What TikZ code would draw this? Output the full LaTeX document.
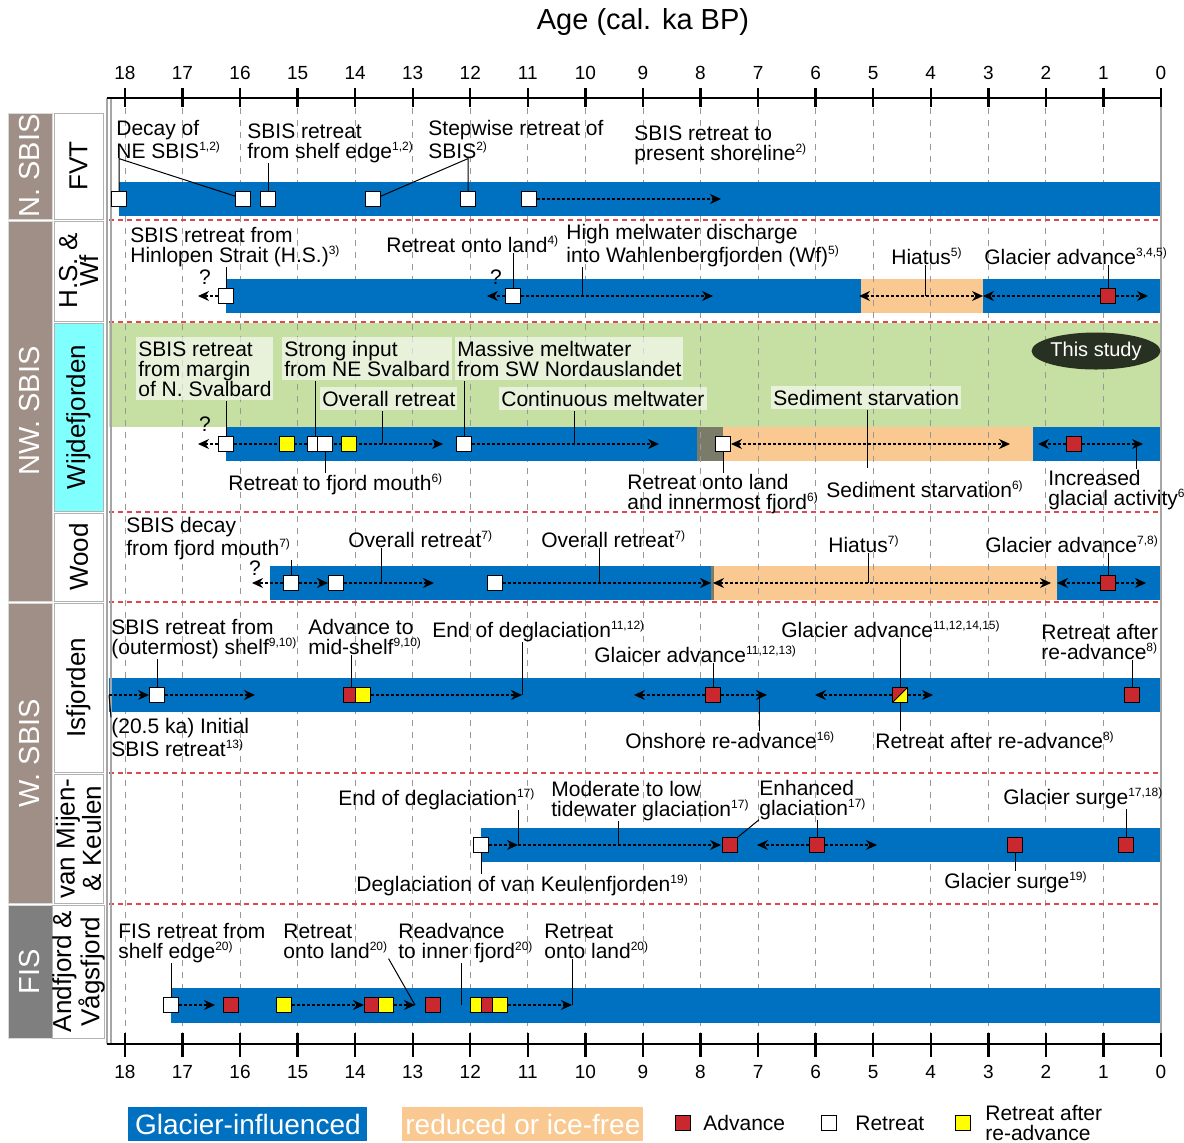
\documentclass[tikz,border=0pt]{standalone}
\usepackage{fontspec}
\setmainfont{Liberation Sans}
\usetikzlibrary{arrows.meta,shapes.geometric}

\definecolor{glacier}{HTML}{0070C0}
\definecolor{icefree}{HTML}{F9C991}
\definecolor{studybg}{HTML}{C6E0A4}
\definecolor{advred}{HTML}{C8282E}
\definecolor{rayellow}{HTML}{FFFF00}
\definecolor{sepred}{HTML}{E0474C}
\definecolor{regbrown}{HTML}{9F8F86}
\definecolor{fisgray}{HTML}{7F7F7F}
\definecolor{hiatgray}{HTML}{7B7B69}
\definecolor{studydark}{HTML}{283021}
\definecolor{wijcyan}{HTML}{80FFFF}

\pgfdeclarelayer{back}
\pgfdeclarelayer{mid}
\pgfsetlayers{back,mid,main}

\newcommand{\supref}[1]{\textsuperscript{\fontsize{6}{6}\selectfont #1)}}

\tikzset{
  sqbox/.style={draw=black, line width=0.5pt, minimum size=7.5pt, inner sep=0pt},
  adv/.style={sqbox, fill=advred},
  ret/.style={sqbox, fill=white},
  rar/.style={sqbox, fill=rayellow},
  split/.style={sqbox, fill=advred, path picture={
      \fill[rayellow] (path picture bounding box.south west) -- (path picture bounding box.south east)
        -- (path picture bounding box.north east) -- cycle;
      \draw[line width=0.5pt] (path picture bounding box.south west) -- (path picture bounding box.north east);}},
  lbl/.style={anchor=base west, inner sep=0pt, align=left, font=\fontsize{10.5}{10}\selectfont},
  wlbl/.style={lbl, fill=white, fill opacity=0.6, text opacity=1, inner xsep=1pt, inner ysep=2pt},
  qmark/.style={inner sep=0pt, font=\fontsize{10.5}{10}\selectfont},
  leader/.style={line width=0.5pt},
  dotarr/.style={line width=0.6pt, dash pattern=on 1.5pt off 1pt, -{Stealth[length=5.5pt,width=5pt]}},
  dotboth/.style={dotarr, {Stealth[length=5.5pt,width=5pt]}-{Stealth[length=5.5pt,width=5pt]}},
  gridline/.style={gray!80, line width=0.4pt, dash pattern=on 3pt off 3pt},
  sepline/.style={sepred, line width=0.6pt, dash pattern=on 2.5pt off 2pt},
  frameline/.style={gray!70, line width=0.8pt},
  axisline/.style={black, line width=1.2pt},
  ticklbl/.style={inner sep=0pt, font=\fontsize{9.5}{10}\selectfont},
  regbox/.style={rotate=90, fill=regbrown, draw=gray!30, minimum height=22pt, inner sep=0pt,
    text=white, font=\fontsize{14.5}{15}\selectfont},
  sitebox/.style={rotate=90, fill=white, draw=gray!60, minimum height=24.5pt, inner sep=0pt,
    align=center, font=\fontsize{13}{9.5}\selectfont},
  legbox/.style={anchor=north west, minimum height=17pt, inner sep=0pt, text=white,
    font=\fontsize{14}{15}\selectfont},
  legtxt/.style={anchor=west, inner sep=0pt, align=left, font=\fontsize{10.5}{10}\selectfont}
}

\begin{document}
\begin{tikzpicture}[x=0.5pt,y=-0.5pt]
\useasboundingbox (0,0) rectangle (1184,1142);

\begin{pgfonlayer}{back}
\fill[studybg] (109,323) rectangle (1161,427);
\fill[icefree] (861,279) rectangle (983,313);
\fill[hiatgray] (697,427) rectangle (723,461);
\fill[icefree] (723,427) rectangle (1033,461);
\fill[hiatgray] (711,566) rectangle (714,600);
\fill[icefree] (714,566) rectangle (1057,600);
\foreach \a in {1,...,18}
  \draw[gridline] ({1161-57.56*\a},108) -- ({1161-57.56*\a},1033);
\fill[glacier] (119,182) rectangle (1161,216);
\fill[glacier] (226,279) rectangle (861,313);
\fill[glacier] (983,279) rectangle (1161,313);
\fill[glacier] (226,427) rectangle (697,461);
\fill[glacier] (1033,427) rectangle (1161,461);
\fill[glacier] (270,566) rectangle (711,600);
\fill[glacier] (1057,566) rectangle (1161,600);
\fill[glacier] (109,678) rectangle (1161,712);
\fill[glacier] (481,828) rectangle (1161,862);
\fill[glacier] (171,988) rectangle (1161,1023);
\foreach \y in {220,322,512,602,773,904}
  \draw[sepline] (109,\y) -- (1161,\y);
\draw[frameline] (107,98) -- (107,1044);
\draw[frameline] (111,98) -- (111,1044);
\draw[frameline] (1161,98) -- (1161,1044);
\end{pgfonlayer}

\node[font=\fontsize{14.5}{16}\selectfont] (title) at (643,22) {Age (cal. ka BP)};
\draw[axisline] (107,98) -- (1161,98);
\draw[axisline] (107,1044) -- (1161,1044);
\foreach \a in {0,...,18} {
  \draw[axisline] ({1161-57.56*\a},88) -- ({1161-57.56*\a},107);
  \draw[axisline] ({1161-57.56*\a},1033) -- ({1161-57.56*\a},1057);
  \node[ticklbl] (tt\a) at ({1161-57.56*\a},73) {\a};
  \node[ticklbl] (tb\a) at ({1161-57.56*\a},1072) {\a};
}

\node[regbox, minimum width=53pt] (rgN) at (30,166) {N. SBIS};
\node[regbox, minimum width=190pt] (rgNW) at (30,411) {NW. SBIS};
\node[regbox, minimum width=150pt] (rgW) at (30,753) {W. SBIS};
\node[regbox, fill=fisgray, minimum width=66.5pt] (rgF) at (30,971.5) {FIS};
\node[sitebox, minimum width=53pt] (sFVT) at (78.5,166) {FVT};
\node[sitebox, minimum width=50pt] (sHS) at (78.5,271) {H.S. \&\\Wf};
\node[sitebox, fill=wijcyan, minimum width=94pt] (sWij) at (78.5,417) {Wijdefjorden};
\node[sitebox, minimum width=44pt] (sWood) at (78.5,557) {Wood};
\node[sitebox, minimum width=84.5pt] (sIsf) at (78.5,687.5) {Isfjorden};
\node[sitebox, minimum width=64.5pt] (sVM) at (78.5,838.5) {van Mijen-\\\& Keulen};
\node[sitebox, minimum width=66.5pt] (sAV) at (78.5,971.5) {Andfjord \&\\Vågsfjord};

\node[ret] (f1) at (119,199) {};
\node[ret] (f2) at (243,199) {};
\node[ret] (f3) at (268,199) {};
\node[ret] (f4) at (373,199) {};
\node[ret] (f5) at (468,199) {};
\node[ret] (f6) at (529,199) {};
\coordinate (f6e) at (721,199);
\node[lbl] (lf1) at (116,158) {Decay of\\NE SBIS\supref{1,2}};
\node[lbl] (lf2) at (247,158) {SBIS retreat\\from shelf edge\supref{1,2}};
\node[lbl] (lf3) at (428,158) {Stepwise retreat of\\SBIS\supref{2}};
\node[lbl] (lf4) at (634,160) {SBIS retreat to\\present shoreline\supref{2}};
\draw[leader] (f1.north) -- (f1 |- lf1.south) -- (f2.160);
\draw[leader] (f3.north) -- (f3 |- lf2.south);
\draw[leader] (f4.20) -- (f5 |- lf3.south) -- (f5.north);

\node[ret] (h1) at (226,296) {};
\node[ret] (h2) at (513,296) {};
\node[adv] (h3) at (1108,296) {};
\coordinate (h1q) at (198,296);
\coordinate (h2q) at (487,296);
\coordinate (h2e) at (713,296);
\coordinate (hw) at (582,296);
\coordinate (hiL) at (859,296);
\coordinate (hiR) at (983,296);
\coordinate (hic) at (925,296);
\coordinate (hgl) at (983,296);
\coordinate (hgr) at (1148,296);
\node[qmark] (q1) at (205,277) {?};
\node[qmark] (q2) at (496,277) {?};
\node[lbl] (lh1) at (130,262) {SBIS retreat from\\Hinlopen Strait (H.S.)\supref{3}};
\node[lbl] (lh2) at (386,252) {Retreat onto land\supref{4}};
\node[lbl] (lh3) at (566,262) {High melwater discharge\\into Wahlenbergfjorden (Wf)\supref{5}};
\node[lbl] (lh4) at (891,264) {Hiatus\supref{5}};
\node[lbl] (lh5) at (984,264) {Glacier advance\supref{3,4,5}};
\draw[leader] (h1.north) -- (h1 |- lh1.south);
\draw[leader] (h2.north) -- (h2 |- lh2.south);
\draw[leader] (hw) -- (hw |- lh3.south);
\draw[leader] (hic) -- (hic |- lh4.south);
\draw[leader] (h3.north) -- (h3 |- lh5.south);

\node[ret] (w1) at (226,444) {};
\node[rar] (w2) at (287,444) {};
\node[ret] (w3) at (315,444) {};
\node[ret] (w4) at (325,444) {};
\node[rar] (w5) at (349,444) {};
\node[ret] (w6) at (464,444) {};
\node[ret] (w7) at (723,444) {};
\node[adv] (w8) at (1074,444) {};
\coordinate (w1q) at (198,444);
\coordinate (w1e) at (443,444);
\coordinate (w3c) at (382,444);
\coordinate (w5c) at (574,444);
\coordinate (w6e) at (659,444);
\coordinate (w7e) at (1010,444);
\coordinate (w7d) at (867,468);
\coordinate (w8l) at (1038,444);
\coordinate (w8r) at (1143,444);
\coordinate (w8a) at (1136,444);
\node[qmark] (q3) at (205,424) {?};
\node[wlbl] (lw1) at (136,396) {SBIS retreat\\from margin\\of N. Svalbard};
\node[wlbl] (lw2) at (282,376) {Strong input\\from NE Svalbard};
\node[wlbl] (lw3) at (320,406) {Overall retreat};
\node[wlbl] (lw4) at (455,376) {Massive meltwater\\from SW Nordauslandet};
\node[wlbl] (lw5) at (499,406) {Continuous meltwater};
\node[wlbl] (lw6) at (771,405) {Sediment starvation};
\node[lbl] (lw7) at (228,490) {Retreat to fjord mouth\supref{6}};
\node[lbl] (lw8) at (627,509) {Retreat onto land\\and innermost fjord\supref{6}};
\node[lbl] (lw9) at (826,497) {Sediment starvation\supref{6}};
\node[lbl] (lw10) at (1048,505) {Increased\\glacial activity\supref{6}};
\node[ellipse, fill=studydark, text=white, minimum width=54pt, minimum height=18.5pt, inner sep=0pt,
  font=\fontsize{10}{10}\selectfont] (study) at (1096,351) {This study};
\draw[leader] (w1.north) -- (w1 |- lw1.south);
\draw[leader] (w3.north) -- (w3 |- lw2.south);
\draw[leader] (w3c) -- (w3c |- lw3.south);
\draw[leader] (w6.north) -- (w6 |- lw4.south);
\draw[leader] (w5c) -- (w5c |- lw5.south);
\draw[leader] (lw6.south -| w7d) -- (w7d);
\draw[leader] (w4.south) -- (w4 |- lw7.north);
\draw[leader] (w7.south) -- (w7 |- lw8.north);
\draw[leader] (w8a) -- (w8a |- lw10.north);

\node[ret] (d1) at (291,583) {};
\node[ret] (d2) at (336,583) {};
\node[ret] (d3) at (495,583) {};
\node[adv] (d4) at (1108,583) {};
\coordinate (d1q) at (252,583);
\coordinate (d2e) at (434,583);
\coordinate (d2c) at (381,583);
\coordinate (d3e) at (711,583);
\coordinate (d3c) at (599,583);
\coordinate (dhL) at (713,583);
\coordinate (dhR) at (1051,583);
\coordinate (dhc) at (868,583);
\coordinate (d4l) at (1057,583);
\coordinate (d4r) at (1146,583);
\node[qmark] (q4) at (255,568) {?};
\node[lbl] (ld1) at (126,555) {SBIS decay\\from fjord mouth\supref{7}};
\node[lbl] (ld2) at (348,547) {Overall retreat\supref{7}};
\node[lbl] (ld3) at (541,547) {Overall retreat\supref{7}};
\node[lbl] (ld4) at (828,552) {Hiatus\supref{7}};
\node[lbl] (ld5) at (985,552) {Glacier advance\supref{7,8}};
\draw[leader] (d1.north) -- (d1 |- ld1.south);
\draw[leader] (d2c) -- (d2c |- ld2.south);
\draw[leader] (d3c) -- (d3c |- ld3.south);
\draw[leader] (dhc) -- (dhc |- ld4.south);
\draw[leader] (d4.north) -- (d4 |- ld5.south);

\node[ret] (i1) at (157,695) {};
\node[adv] (i2) at (351,695) {};
\node[rar] (i3) at (363,695) {};
\node[adv] (i4) at (713,695) {};
\node[split] (i5) at (900,695) {};
\node[adv] (i6) at (1132,695) {};
\coordinate (i0) at (109,695);
\coordinate (i1e) at (255,695);
\coordinate (i3e) at (522,695);
\coordinate (i4l) at (634,695);
\coordinate (i4r) at (767,695);
\coordinate (i4c) at (759,695);
\coordinate (i5l) at (815,695);
\coordinate (i5r) at (933,695);
\node[lbl] (li1) at (111,654) {SBIS retreat from\\(outermost) shelf\supref{9,10}};
\node[lbl] (li2) at (308,654) {Advance to\\mid-shelf\supref{9,10}};
\node[lbl] (li3) at (432,637) {End of deglaciation\supref{11,12}};
\node[lbl] (li4) at (594,662) {Glaicer advance\supref{11,12,13}};
\node[lbl] (li5) at (781,637) {Glacier advance\supref{11,12,14,15}};
\node[lbl] (li6) at (1041,659) {Retreat after\\re-advance\supref{8}};
\node[lbl] (li7) at (111,756) {(20.5 ka) Initial\\SBIS retreat\supref{13}};
\node[lbl] (li8) at (625,748) {Onshore re-advance\supref{16}};
\node[lbl] (li9) at (875,748) {Retreat after re-advance\supref{8}};
\draw[leader] (i1.north) -- (i1 |- li1.south);
\draw[leader] (i2.north) -- (i2 |- li2.south);
\draw[leader] (i3e) -- (i3e |- li3.south);
\draw[leader] (i4.north) -- (i4 |- li4.south);
\draw[leader] (i5.north) -- (i5 |- li5.south);
\draw[leader] (i6.north) -- (i6 |- li6.south);
\draw[leader] (i0) -- (li7.north west);
\draw[leader] (i4c) -- (i4c |- li8.north);
\draw[leader] (i5.south) -- (i5 |- li9.north);

\node[ret] (v1) at (481,845) {};
\node[adv] (v2) at (730,845) {};
\node[adv] (v3) at (817,845) {};
\node[adv] (v4) at (1015,845) {};
\node[adv] (v5) at (1126,845) {};
\coordinate (v1m) at (518,845);
\coordinate (v1e) at (721,845);
\coordinate (v2c) at (618,845);
\coordinate (v3l) at (757,845);
\coordinate (v3r) at (877,845);
\node[lbl] (lv1) at (338,805) {End of deglaciation\supref{17}};
\node[lbl] (lv2) at (551,816) {Moderate to low\\tidewater glaciation\supref{17}};
\node[lbl] (lv3) at (759,815) {Enhanced\\glaciation\supref{17}};
\node[lbl] (lv4) at (1003,804) {Glacier surge\supref{17,18}};
\node[lbl] (lv5) at (356,891) {Deglaciation of van Keulenfjorden\supref{19}};
\node[lbl] (lv6) at (944,888) {Glacier surge\supref{19}};
\draw[leader] (v1m) -- (v1m |- lv1.south);
\draw[leader] (v2c) -- (v2c |- lv2.south);
\draw[leader] (v2.north east) -- (lv3.south west);
\draw[leader] (v3.north) -- (v3 |- lv3.south);
\draw[leader] (v5.north) -- (v5 |- lv4.south);
\draw[leader] (v1.south) -- (v1 |- lv5.north);
\draw[leader] (v4.south) -- (v4 |- lv6.north);

\node[ret] (a1) at (171,1005) {};
\node[adv] (a2) at (231,1005) {};
\node[rar] (a3) at (284,1005) {};
\node[adv] (a4) at (372,1005) {};
\node[rar] (a5) at (386,1005) {};
\node[adv] (a6) at (433,1005) {};
\node[rar] (a7) at (478,1005) {};
\node[adv] (a8) at (489,1005) {};
\node[rar] (a9) at (500,1005) {};
\coordinate (a1e) at (215,1005);
\coordinate (a5e) at (415,1005);
\coordinate (a6c) at (461,1005);
\coordinate (a9e) at (572,1005);
\node[lbl] (la1) at (118,958) {FIS retreat from\\shelf edge\supref{20}};
\node[lbl] (la2) at (283,958) {Retreat\\onto land\supref{20}};
\node[lbl] (la3) at (398,958) {Readvance\\to inner fjord\supref{20}};
\node[lbl] (la4) at (544,958) {Retreat\\onto land\supref{20}};
\draw[leader] (a1.north) -- (a1 |- la1.south);
\draw[leader] (la2.south east) -- (a5e);
\draw[leader] (a6c) -- (a6c |- la3.south);
\draw[leader] (a9e) -- (a9e |- la4.south);

\begin{pgfonlayer}{mid}
\draw[dotarr] (f6.east) -- (f6e);
\draw[dotarr] (h1.west) -- (h1q);
\draw[dotarr] (h2.west) -- (h2q);
\draw[dotarr] (h2.east) -- (h2e);
\draw[dotboth] (hiL) -- (hiR);
\draw[dotarr] (h3.west) -- (hgl);
\draw[dotarr] (h3.east) -- (hgr);
\draw[dotarr] (w1.west) -- (w1q);
\draw[dotarr] (w1.east) -- (w1e);
\draw[dotarr] (w6.east) -- (w6e);
\draw[dotboth] (w7.east) -- (w7e);
\draw[dotarr] (w8.west) -- (w8l);
\draw[dotarr] (w8.east) -- (w8r);
\draw[dotarr] (d1.west) -- (d1q);
\draw[dotarr] (d1.east) -- (d2.west);
\draw[dotarr] (d2.east) -- (d2e);
\draw[dotarr] (d3.east) -- (d3e);
\draw[dotboth] (dhL) -- (dhR);
\draw[dotarr] (d4.west) -- (d4l);
\draw[dotarr] (d4.east) -- (d4r);
\draw[dotarr] (i0) -- (i1.west);
\draw[dotarr] (i1.east) -- (i1e);
\draw[dotarr] (i3.east) -- (i3e);
\draw[dotarr] (i4.west) -- (i4l);
\draw[dotarr] (i4.east) -- (i4r);
\draw[dotarr] (i5.west) -- (i5l);
\draw[dotarr] (i5.east) -- (i5r);
\draw[dotarr] (v1.east) -- (v1m);
\draw[dotarr] (v1m) -- (v1e);
\draw[dotarr] (v3.west) -- (v3l);
\draw[dotarr] (v3.east) -- (v3r);
\draw[dotarr] (a1.east) -- (a1e);
\draw[dotarr] (a3.east) -- (a4.west);
\draw[dotarr] (a5.east) -- (a5e);
\draw[dotarr] (a9.east) -- (a9e);
\end{pgfonlayer}

\node[legbox, fill=glacier, minimum width=119.5pt] (lgA) at (128,1107) {Glacier-influenced};
\node[legbox, fill=icefree, minimum width=120.5pt] (lgB) at (402,1107) {reduced or ice-free};
\node[adv] (lkA) at (683,1123) {};
\node[ret] (lkB) at (829,1123) {};
\node[rar] (lkC) at (963,1123) {};
\node[legtxt] (ltA) at (703,1123) {Advance};
\node[legtxt] (ltB) at (855,1123) {Retreat};
\node[legtxt] (ltC) at (985,1123) {Retreat after\\re-advance};
\end{tikzpicture}
\end{document}
